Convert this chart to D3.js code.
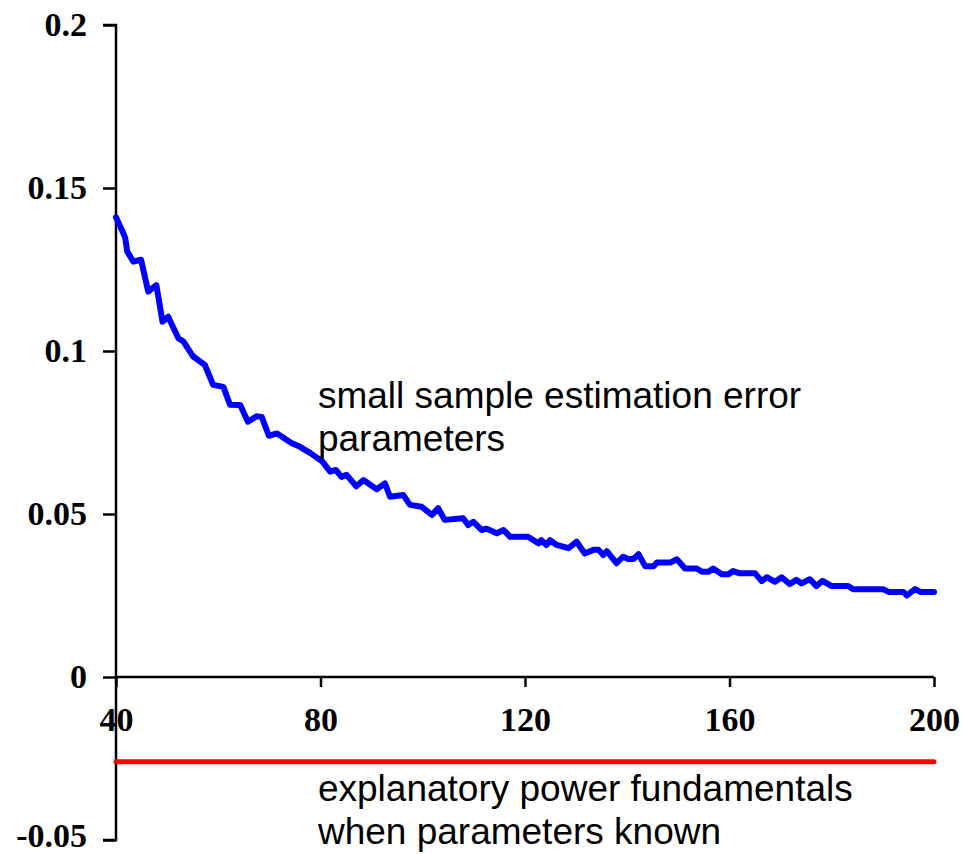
<!DOCTYPE html>
<html>
<head>
<meta charset="utf-8">
<script src="https://cdn.jsdelivr.net/npm/d3@7"></script>
<style>
  html, body { margin: 0; padding: 0; background: #fff; }
  svg { display: block; }
</style>
</head>
<body>
<svg id="chart" width="963" height="854"></svg>
<script>
// Sample size (x) and small-sample estimation error (y)
const sampleSize = [
  40, 41.3, 41.8, 42.2, 43.4, 44.9, 46.3, 47.9, 49.1, 50.2,
  52.2, 53.2, 55.1, 57.4, 59, 61, 62.3, 64.3, 65.8, 67.5,
  68.5, 69.9, 71.5, 74.3, 76, 78.1, 80.3, 81.9, 83, 84.1,
  85.1, 87, 88.4, 91, 92.6, 93.6, 96.2, 97.5, 99.8, 101.8,
  103, 104.3, 107.9, 108.9, 109.9, 111.5, 112.5, 114.5, 115.8, 117.1,
  120.6, 122.6, 123.2, 124.2, 124.9, 126.2, 128.5, 130.1, 131.7, 133.4,
  134.4, 135.3, 136, 137.9, 139.2, 140.2, 141.2, 142.2, 143.5, 145.2,
  145.8, 148.4, 149.7, 151.3, 153.6, 154.6, 155.9, 156.8, 158.5, 159.8,
  160.7, 162, 165, 166.3, 167.3, 168.9, 170.2, 171.8, 173.1, 174.1,
  175.7, 177, 178.2, 180, 183.2, 184.2, 190.1, 191.1, 194, 194.7,
  196.3, 197.3, 200
];
const estimationError = [
  0.141, 0.1366, 0.1347, 0.1305, 0.1274, 0.128, 0.1182, 0.1202, 0.109, 0.1105,
  0.1039, 0.1029, 0.0983, 0.0957, 0.0896, 0.089, 0.0835, 0.0834, 0.0783, 0.0800,
  0.0798, 0.0740, 0.0747, 0.0718, 0.0706, 0.0686, 0.0662, 0.063, 0.0635, 0.0614,
  0.062, 0.0585, 0.0604, 0.0576, 0.0594, 0.0553, 0.0558, 0.0528, 0.0522, 0.0497,
  0.0518, 0.0482, 0.0487, 0.0466, 0.0476, 0.0451, 0.0455, 0.0441, 0.0451, 0.043,
  0.043, 0.041, 0.042, 0.0405, 0.042, 0.0405, 0.0395, 0.0415, 0.0379, 0.039,
  0.039, 0.0374, 0.0386, 0.0349, 0.0369, 0.0362, 0.0362, 0.0377, 0.034, 0.034,
  0.0351, 0.0351, 0.0361, 0.0333, 0.0333, 0.0323, 0.0323, 0.0333, 0.0315, 0.0315,
  0.0325, 0.0318, 0.0318, 0.0294, 0.0306, 0.0292, 0.0306, 0.0285, 0.0298, 0.0287,
  0.03, 0.0279, 0.0295, 0.0279, 0.0279, 0.0269, 0.0269, 0.0261, 0.0261, 0.025,
  0.027, 0.0261, 0.0261
];
// Explanatory power of fundamentals when parameters known (constant)
const knownRange = [40, 200];
const knownValue = [-0.026, -0.026];

const xTicks = [40, 80, 120, 160, 200];
const xTickLabels = ["40", "80", "120", "160", "200"];
const yTicks = [0.2, 0.15, 0.1, 0.05, 0, -0.05];
const yTickLabels = ["0.2", "0.15", "0.1", "0.05", "0", "-0.05"];

const annotations = [
  { lines: ["small sample estimation error", "parameters"], x: 79.5, y: 0.0826 },
  { lines: ["explanatory power fundamentals", "when parameters known"], x: 79.5, y: -0.0380 }
];

const svg = d3.select("#chart");
const x = d3.scaleLinear().domain([40, 200]).range([116, 934]);
const y = d3.scaleLinear().domain([-0.05, 0.2]).range([840, 25]);

// y axis
const yAxis = d3.axisLeft(y).tickValues(yTicks).tickSize(13).tickPadding(16)
  .tickFormat((d, i) => yTickLabels[i]);
const gy = svg.append("g").attr("transform", `translate(${x(40)},0)`).call(yAxis);
gy.select(".domain").attr("d", `M-13,${y(0.2)}H0V${y(-0.05)}H-13`);

// x axis at y = 0
const xAxis = d3.axisBottom(x).tickValues(xTicks).tickSize(10).tickPadding(20)
  .tickFormat((d, i) => xTickLabels[i]);
const gx = svg.append("g").attr("transform", `translate(0,${y(0)})`).call(xAxis);
gx.select(".domain").attr("d", `M${x(40)},0H${x(200)}`);

svg.selectAll(".domain, .tick line").attr("stroke", "#000").attr("stroke-width", 2.5);
svg.selectAll(".tick text")
  .attr("font-family", "'Liberation Serif', 'Times New Roman', serif")
  .attr("font-weight", "bold").attr("font-size", 34).attr("fill", "#000");
gx.selectAll(".tick text").attr("dy", "0.71em");
gy.selectAll(".tick text").attr("dy", d => d === -0.05 ? "0.2em" : "0.32em");

// red constant line
const redLine = d3.line().x((d, i) => x(knownRange[i])).y((d, i) => y(knownValue[i]));
svg.append("path").datum(knownRange).attr("d", redLine)
  .attr("fill", "none").attr("stroke", "#ff0000").attr("stroke-width", 5)
  .attr("stroke-linecap", "round");

// blue curve
const blueLine = d3.line().x((d, i) => x(sampleSize[i])).y((d, i) => y(estimationError[i]));
svg.append("path").datum(sampleSize).attr("d", blueLine)
  .attr("fill", "none").attr("stroke", "#0000ff").attr("stroke-width", 6)
  .attr("stroke-linejoin", "round").attr("stroke-linecap", "round");

// annotations
annotations.forEach(a => {
  const t = svg.append("text")
    .attr("font-family", "'Liberation Sans', Arial, sans-serif")
    .attr("font-size", 37).attr("fill", "#000")
    .attr("x", x(a.x)).attr("y", y(a.y));
  a.lines.forEach((l, i) => {
    t.append("tspan").attr("x", x(a.x)).attr("dy", i === 0 ? 0 : 43).text(l);
  });
});
</script>
</body>
</html>
